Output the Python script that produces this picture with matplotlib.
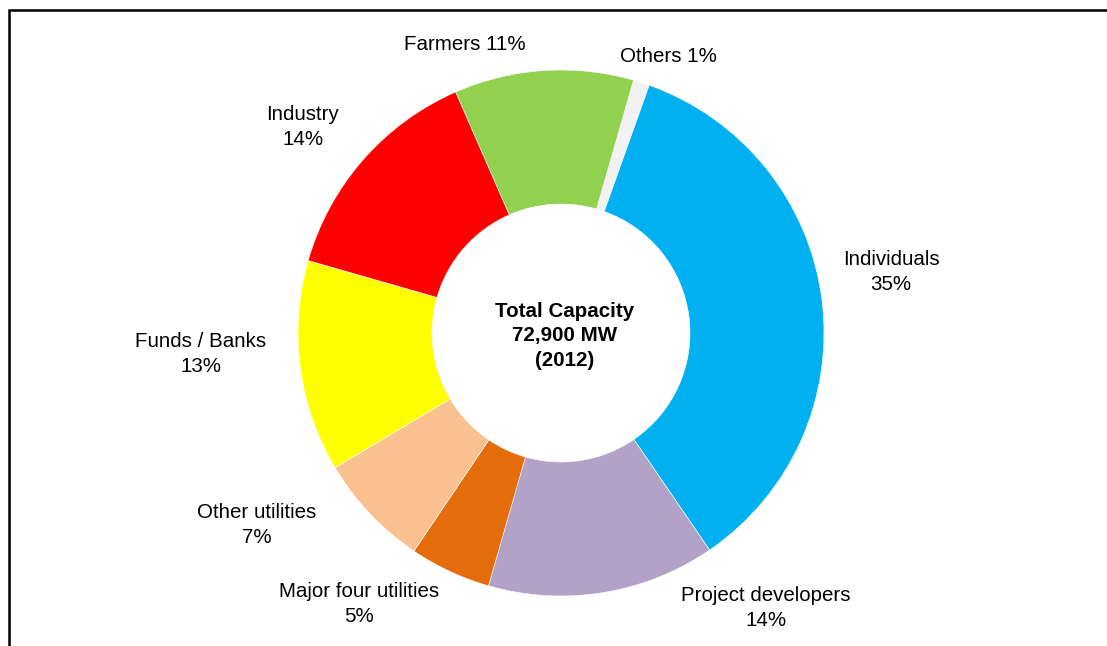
import matplotlib.pyplot as plt
from matplotlib.patches import Rectangle

plt.rcParams['font.family'] = ['Liberation Sans', 'DejaVu Sans']

owners = ['Others', 'Individuals', 'Project developers', 'Major four utilities',
          'Other utilities', 'Funds / Banks', 'Industry', 'Farmers']
shares = [1, 35, 14, 5, 7, 13, 14, 11]
colors = ['#F2F2F2', '#00B0F0', '#B2A2C7', '#E46C0A',
          '#FAC090', '#FFFF00', '#FF0000', '#92D050']

# label text anchors in pixel space (origin bottom left)
label_pos = {
    'Others': (668, 589),
    'Individuals': (891, 374),
    'Project developers': (766, 38),
    'Major four utilities': (359, 42),
    'Other utilities': (257, 121),
    'Funds / Banks': (201, 292),
    'Industry': (303, 519),
    'Farmers': (465, 601),
}

W, H = 1107, 646
fig = plt.figure(figsize=(W / 100, H / 100), dpi=100)
ax = fig.add_axes([0, 0, 1, 1])

# outer frame, only top and left edges fall inside the canvas
ax.add_patch(Rectangle((8.5, -20), W + 40, H - 9.5 + 20, fill=False,
                       edgecolor='black', lw=1.8))

cx, cy, r_out = 561, 646 - 333, 263
ax.pie(shares, colors=colors, startangle=74, counterclock=False,
       center=(cx, cy), radius=r_out, frame=True,
       wedgeprops=dict(width=r_out - 129, edgecolor='white', linewidth=0.4))
ax.set_xlim(0, W)
ax.set_ylim(0, H)
ax.set_aspect('equal')
ax.axis('off')

fs = 14.8
for name, val in zip(owners, shares):
    x, y = label_pos[name]
    if name in ('Others', 'Farmers'):
        txt = f'{name} {val}%'
    else:
        txt = f'{name}\n{val}%'
    ax.text(x, y, txt, ha='center', va='center', fontsize=fs,
            linespacing=1.38)

ax.text(cx + 4, 646 - 336, 'Total Capacity\n72,900 MW\n(2012)', ha='center',
        va='center', fontsize=fs, fontweight='bold', linespacing=1.35)

fig.savefig('out.png', dpi=100)
